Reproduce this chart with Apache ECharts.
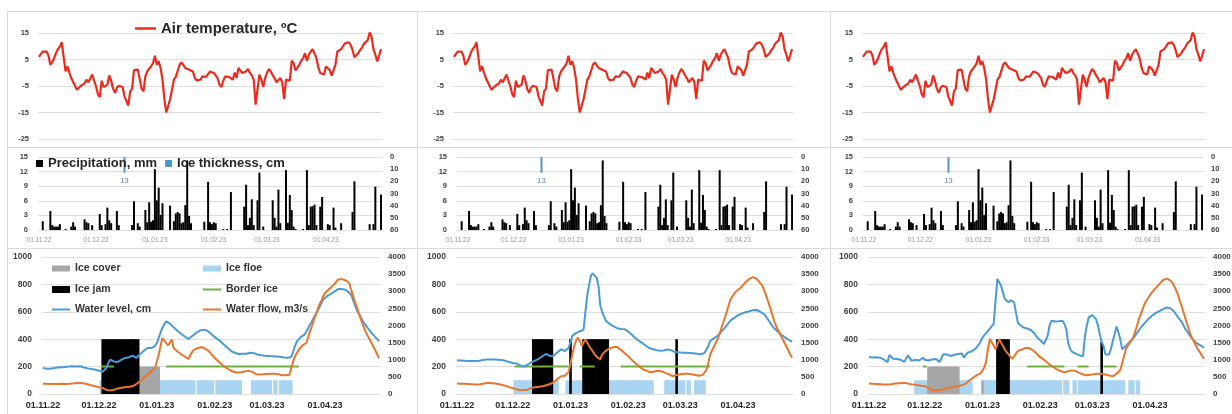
<!DOCTYPE html>
<html>
<head>
<meta charset="utf-8">
<script src="https://cdn.jsdelivr.net/npm/echarts@6/dist/echarts.min.js"></script>
<style>
  html, body { margin: 0; padding: 0; background: #fff; }
  #chart { width: 1232px; height: 414px; }
</style>
</head>
<body>
<div id="chart"></div>
<script>
// ---- Daily categories: 01.11.22 .. 30.04.23 ----
const FIRST_DAY = Date.UTC(2022, 10, 1);
const DAY_COUNT = 181;
const pad2 = n => (n < 10 ? '0' : '') + n;
const days = [];
for (let i = 0; i < DAY_COUNT; i++) {
  const d = new Date(FIRST_DAY + i * 86400000);
  days.push(pad2(d.getUTCDate()) + '.' + pad2(d.getUTCMonth() + 1) + '.' + String(d.getUTCFullYear()).slice(2));
}
const monthTicks = ['01.11.22', '01.12.22', '01.01.23', '01.02.23', '01.03.23', '01.04.23'];

// ---- Air temperature, ºC (daily) ----
const airTemp = [
  6, 7, 8, 8.6, 8, 6.5, 3, 4, 5.5, 7.5,
  9, 9.8, 11.5, 6, 0.5, 2.4, 0, -2, -2.6, -5,
  -6.4, -6, -5, -4.5, -4, -2.6, -3.6, -3, -0.7, -3,
  -5, -8, -9.2, -3, -5.4, -5.5, -4.5, -1, -3, -6,
  -7.6, -5.7, -4.9, -5, -5.4, -8.9, -9, -12.4, -7, -6,
  1, 1.4, 1.2, 1, -6, -7, -1.4, 0.5, 1.5, 2.4,
  3.6, 6.4, 3, 4.3, 1.8, -2.6, -10, -15, -15.7, -10,
  -6.4, -2.6, -1.6, -1, 3, 3.9, 3.4, 1.8, 1.5, 1.1,
  0.8, 0.5, -2, -2.9, -3, -2.6, -1.4, -2, -1.5, -1,
  0.5, 0.9, -0.1, -1, -2, -4.5, -5.4, -3, -1.4, -1.4,
  -1.6, -1.6, -2.6, 0.1, -2, 1.8, 0.8, -0.1, 0.2, 0.5,
  1.4, -0.1, -1, -2.6, -12, -6.4, -0.7, -2.6, -5.4, -2,
  0, 1.4, 0.5, -1, -2, -3.6, -3, -2, -3.6, -9.9,
  -2.6, -3, -3, 4.6, 3.6, 0.9, 1.5, 3, 4.5, 5.5,
  7.4, 4.5, 6.8, 8, 8.9, 8.4, 5.5, 2, -0.1, -0.5,
  -0.7, 2.4, 2.6, 1, -1.1, -1, 3, 8, 8.5, 8.9,
  10, 11.1, 11.8, 11.5, 10.5, 8.6, 5.9, 6.5, 7.4, 8.6,
  9.5, 10.9, 11.4, 12.4, 15.2, 13.6, 8.9, 6.8, 4.3, 6.5,
  8.9
];

// ---- Precipitation, mm (daily) ----
const precipitation = [
  0, 0, 1.8, 0, 0, 0, 3.9, 1.0, 0.7, 0.7,
  0.7, 1.2, 0, 0, 0.2, 0, 0, 0.7, 1.6, 0.7,
  0, 0, 0, 0, 2.2, 1.6, 1.4, 0, 1.0, 0,
  0, 0, 3.3, 1.0, 0, 1.2, 4.6, 2.0, 1.4, 0,
  0, 3.9, 1.0, 0, 0, 0, 0, 0, 0, 1.0,
  5.9, 0, 1.4, 0.7, 0, 0, 4.1, 1.6, 5.7, 1.7,
  2.0, 12.5, 6.1, 8.7, 3.1, 5.5, 0, 0, 0, 5.0,
  0, 1.8, 3.4, 3.7, 3.4, 1.4, 1.6, 5.1, 14.3, 2.9,
  1.4, 0, 0, 0, 0, 0, 0, 1.7, 0, 9.9,
  1.6, 1.2, 1.6, 1.4, 0, 0, 0, 0.2, 0, 0.2,
  0, 7.8, 0, 0, 0, 0, 0, 0, 4.8, 9.3,
  1.0, 2.5, 6.3, 1.0, 0, 6.1, 11.8, 0, 0.7, 0,
  0, 0, 0, 6.1, 2.5, 0.7, 8.3, 1.4, 0, 0,
  12.3, 1.5, 7.2, 4.1, 0.7, 0.2, 0, 0, 0, 0.2,
  0, 12.3, 1.0, 4.8, 4.9, 5.2, 1.0, 0, 4.8, 6.8,
  0, 0, 1.2, 1.0, 0, 4.6, 0.5, 0, 0, 1.4,
  0, 0, 0, 0, 0, 3.7, 10.0, 0, 0, 0,
  0, 0, 0, 0, 1.2, 0, 1.2, 8.9, 0, 0,
  7.3
];

// ---- Ice thickness, cm (single measurement) ----
const iceThicknessDate = '16.12.22';
const iceThicknessValue = 13;

// ---- Water level, cm and water flow, m3/s (daily), three gauges ----
const waterLevel1 = [
  190, 188, 185, 183, 185, 188, 190, 192, 193, 195,
  195, 196, 197, 198, 200, 201, 202, 202, 201, 202,
  202, 198, 194, 190, 187, 184, 182, 180, 177, 174,
  170, 166, 163, 160, 190, 226, 250, 263, 238, 233,
  233, 245, 250, 256, 263, 265, 268, 270, 280, 272,
  263, 275, 290, 304, 315, 326, 336, 336, 335, 336,
  350, 372, 410, 450, 482, 510, 530, 525, 513, 500,
  487, 474, 462, 451, 440, 430, 420, 410, 401, 412,
  423, 433, 445, 457, 463, 467, 470, 466, 462, 457,
  441, 426, 416, 406, 397, 385, 372, 360, 348, 335,
  323, 311, 305, 299, 295, 292, 292, 293, 293, 294,
  298, 301, 304, 298, 292, 287, 285, 283, 282, 280,
  279, 278, 277, 276, 275, 274, 273, 272, 270, 267,
  263, 265, 268, 270, 310, 350, 384, 400, 415, 425,
  433, 455, 480, 506, 530, 555, 580, 603, 632, 660,
  688, 700, 712, 722, 730, 737, 747, 757, 766, 767,
  766, 764, 761, 752, 740, 725, 690, 650, 615, 590,
  565, 540, 518, 500, 480, 462, 445, 430, 415, 400,
  384
];
const waterFlow1 = [
  302, 300, 298, 296, 295, 294, 293, 292, 295, 298,
  296, 294, 292, 295, 300, 305, 310, 315, 318, 321,
  318, 312, 305, 295, 285, 270, 253, 240, 225, 210,
  195, 185, 175, 150, 120, 97, 105, 115, 126, 140,
  160, 175, 182, 190, 197, 204, 210, 217, 224, 260,
  290, 321, 370, 418, 470, 520, 570, 613, 660, 710,
  759, 950, 1148, 1400, 1635, 1560, 1489, 1420, 1392, 1587,
  1343, 1290, 1240, 1197, 1160, 1125, 1090, 1055, 1022, 1150,
  1230, 1294, 1320, 1345, 1360, 1372, 1360, 1320, 1280, 1246,
  1180, 1115, 1051, 1000, 950, 900, 856, 810, 770, 730,
  700, 675, 650, 632, 630, 632, 635, 642, 655, 665,
  675, 681, 650, 610, 580, 564, 570, 575, 580, 584,
  585, 588, 590, 592, 594, 590, 580, 565, 550, 535,
  545, 555, 564, 759, 950, 1100, 1197, 1290, 1360, 1420,
  1460, 1489, 1650, 1820, 1976, 2150, 2300, 2450, 2608, 2720,
  2840, 2949, 3000, 3050, 3100, 3143, 3200, 3270, 3338, 3350,
  3355, 3358, 3320, 3280, 3240, 3050, 2880, 2705, 2550, 2380,
  2220, 2072, 1930, 1800, 1684, 1590, 1489, 1380, 1270, 1160,
  1051
];
const waterLevel2 = [
  247, 246, 245, 244, 243, 242, 241, 240, 241, 240,
  240, 240, 242, 245, 248, 250, 251, 252, 252, 252,
  252, 251, 250, 249, 248, 247, 243, 238, 233, 230,
  227, 225, 223, 215, 208, 203, 200, 198, 215, 228,
  233, 238, 243, 247, 257, 267, 277, 285, 293, 301,
  277, 265, 280, 294, 305, 315, 326, 320, 314, 326,
  338, 380, 424, 435, 445, 453, 458, 463, 468, 600,
  720, 800, 865, 880, 889, 850, 791, 644, 600, 565,
  534, 523, 512, 502, 495, 488, 480, 477, 475, 473,
  473, 466, 457, 448, 433, 418, 404, 395, 386, 377,
  368, 358, 348, 338, 333, 328, 324, 321, 318, 316,
  314, 317, 321, 326, 326, 320, 313, 306, 305, 304,
  303, 302, 302, 301, 300, 299, 298, 297, 296, 294,
  292, 290, 289, 300, 314, 350, 387, 397, 406, 415,
  424, 440, 455, 470, 485, 502, 520, 538, 546, 555,
  565, 576, 582, 587, 592, 597, 600, 604, 608, 612,
  615, 613, 608, 600, 595, 582, 566, 546, 525, 505,
  485, 472, 460, 448, 436, 424, 415, 406, 398, 389,
  380
];
const waterFlow2 = [
  304, 302, 300, 298, 296, 294, 292, 290, 288, 284,
  278, 274, 280, 290, 300, 310, 318, 322, 323, 320,
  310, 300, 290, 280, 268, 255, 240, 220, 200, 188,
  176, 160, 140, 120, 108, 110, 115, 120, 127, 150,
  175, 196, 200, 205, 210, 215, 225, 240, 255, 270,
  290, 304, 350, 400, 441, 480, 519, 530, 535, 539,
  640, 900, 1156, 1400, 1560, 1646, 1550, 1401, 1352, 1597,
  1500, 1401, 1320, 1240, 1156, 1090, 1040, 1009, 1156, 1210,
  1260, 1303, 1330, 1350, 1370, 1382, 1375, 1330, 1290, 1254,
  1200, 1150, 1100, 1050, 990, 940, 892, 850, 800, 755,
  715, 695, 675, 655, 637, 645, 655, 668, 678, 686,
  660, 640, 617, 595, 570, 545, 519, 540, 555, 568,
  575, 585, 590, 598, 592, 585, 575, 568, 555, 540,
  530, 519, 560, 600, 700, 900, 1156, 1270, 1380, 1490,
  1597, 1750, 1920, 2080, 2250, 2420, 2600, 2773, 2850, 2930,
  3000, 3018, 3080, 3140, 3200, 3263, 3310, 3360, 3400, 3410,
  3400, 3361, 3300, 3230, 3165, 3030, 2880, 2720, 2560, 2380,
  2200, 2038, 1920, 1810, 1700, 1597, 1490, 1380, 1270, 1160,
  1058
];
const waterLevel3 = [
  270, 268, 266, 265, 268, 272, 265, 258, 252, 240,
  233, 284, 270, 258, 252, 255, 257, 250, 238, 235,
  260, 282, 262, 242, 245, 250, 257, 245, 233, 265,
  250, 240, 245, 250, 252, 265, 255, 242, 233, 265,
  290, 296, 288, 280, 277, 282, 286, 289, 292, 295,
  296, 265, 285, 301, 305, 310, 314, 328, 342, 360,
  385, 412, 430, 445, 461, 478, 495, 510, 681, 840,
  815, 791, 740, 693, 706, 669, 685, 698, 669, 590,
  522, 505, 492, 485, 480, 478, 473, 467, 461, 440,
  420, 405, 395, 380, 365, 355, 424, 500, 534, 532,
  530, 529, 531, 533, 534, 510, 473, 375, 330, 310,
  301, 295, 288, 282, 279, 277, 420, 497, 559, 570,
  576, 565, 546, 500, 436, 380, 350, 289, 289, 289,
  330, 387, 440, 492, 450, 399, 326, 335, 350, 365,
  380, 395, 404, 425, 445, 465, 485, 500, 515, 530,
  546, 560, 572, 583, 590, 598, 605, 612, 620, 627,
  632, 630, 625, 615, 600, 580, 560, 546, 525, 500,
  473, 455, 435, 415, 399, 385, 372, 363, 355, 347,
  338
];
const waterFlow3 = [
  304, 302, 300, 298, 295, 292, 288, 284, 280, 276,
  274, 280, 288, 296, 304, 310, 316, 320, 322, 323,
  318, 305, 292, 280, 274, 268, 260, 252, 242, 233,
  228, 225, 180, 125, 108, 108, 108, 108, 108, 125,
  140, 150, 165, 180, 195, 206, 212, 218, 224, 230,
  260, 285, 304, 360, 400, 440, 480, 519, 550, 580,
  600, 617, 780, 960, 1350, 1617, 1500, 1420, 1303, 1450,
  1597, 1500, 1401, 1300, 1220, 1156, 1090, 1029, 1100, 1180,
  1254, 1280, 1300, 1320, 1340, 1352, 1340, 1310, 1280, 1254,
  1190, 1120, 1080, 1040, 1000, 955, 910, 862, 830, 790,
  750, 720, 695, 670, 650, 637, 650, 665, 680, 690,
  696, 670, 645, 617, 595, 570, 545, 548, 555, 562,
  568, 575, 585, 592, 598, 590, 580, 568, 555, 540,
  528, 519, 540, 590, 640, 700, 900, 1100, 1303, 1400,
  1490, 1560, 1650, 1820, 2000, 2185, 2330, 2480, 2620, 2724,
  2810, 2890, 2969, 3030, 3090, 3150, 3214, 3270, 3330, 3381,
  3370, 3345, 3312, 3250, 3150, 3030, 2900, 2720, 2560, 2381,
  2200, 2030, 1860, 1695, 1590, 1480, 1370, 1280, 1200, 1110,
  1029
];

// ---- Ice phenomena: [from, to, bar height on the level axis] ----
const iceCover1 = [['23.12.22', '02.01.23', 200]];
const iceFloe1 = [['02.12.22', '02.12.22', 100], ['03.01.23', '21.01.23', 100], ['23.01.23', '31.01.23', 100],
                  ['02.02.23', '15.02.23', 100], ['21.02.23', '03.03.23', 100], ['05.03.23', '06.03.23', 100],
                  ['08.03.23', '14.03.23', 100]];
const iceJam1 = [['03.12.22', '22.12.22', 400]];
const borderIce1 = [['02.12.22', '09.12.22', 200], ['06.01.23', '18.03.23', 200]];

const iceCover2 = [];
const iceFloe2 = [['02.12.22', '25.12.22', 100], ['30.12.22', '14.02.23', 100], ['21.02.23', '03.03.23', 100],
                  ['05.03.23', '06.03.23', 100], ['09.03.23', '14.03.23', 100]];
const iceJam2 = [['12.12.22', '22.12.22', 400], ['01.01.23', '01.01.23', 400], ['08.01.23', '21.01.23', 400],
                 ['27.02.23', '27.02.23', 400]];
const borderIce2 = [['02.12.22', '31.12.22', 200], ['06.01.23', '14.01.23', 200], ['28.01.23', '17.03.23', 200]];

const iceCover3 = [['03.12.22', '19.12.22', 200], ['01.01.23', '01.01.23', 100]];
const iceFloe3 = [['26.11.22', '26.12.22', 100], ['02.01.23', '12.02.23', 100], ['14.02.23', '16.02.23', 100],
                  ['19.02.23', '20.02.23', 100], ['22.02.23', '18.03.23', 100], ['21.03.23', '23.03.23', 100],
                  ['25.03.23', '26.03.23', 100]];
const iceJam3 = [['09.01.23', '15.01.23', 400], ['06.03.23', '06.03.23', 380]];
const borderIce3 = [['30.11.22', '02.12.22', 200], ['25.01.23', '14.02.23', 200], ['21.02.23', '27.02.23', 200],
                    ['07.03.23', '14.03.23', 200]];

// ---- Names ----
const NAME_TEMP = 'Air temperature, ºC';
const NAME_PREC = 'Precipitation, mm';
const NAME_ICE_T = 'Ice thickness, cm';
const NAME_COVER = 'Ice cover';
const NAME_FLOE = 'Ice floe';
const NAME_JAM = 'Ice jam';
const NAME_BORDER = 'Border ice';
const NAME_LEVEL = 'Water level, cm';
const NAME_FLOW = 'Water flow, m3/s';

// ---- Styling ----
const FONT = '"Liberation Sans", Arial, sans-serif';
const GRID_LINE = '#dedede';
const FRAME = '#d9d9d9';
const TICK_TEXT = '#404040';
const C_TEMP = '#ec2b1d';
const C_LEVEL = '#4a9ad8';
const C_FLOW = '#e8762d';
const C_BORDER = '#6fb043';
const C_FLOE = '#a9d5f3';
const C_COVER = '#a6a6a6';
const C_JAM = '#000000';
const C_ICE_T = '#4f95d2';

function dailyFromRanges(ranges) {
  const out = new Array(days.length).fill(null);
  ranges.forEach(([from, to, v]) => {
    const a = days.indexOf(from), b = days.indexOf(to);
    for (let i = a; i <= b; i++) out[i] = v;
  });
  return out;
}
const iceThickness = days.map(d => (d === iceThicknessDate ? iceThicknessValue : null));

// Horizontal extents (px) of the three plots in each column
const panels = [
  { top: [38, 382], mid: [38, 382], bot: [42, 380],
    level: waterLevel1, flow: waterFlow1, cover: iceCover1, floe: iceFloe1, jam: iceJam1, border: borderIce1 },
  { top: [453, 793], mid: [457, 793], bot: [456, 793],
    level: waterLevel2, flow: waterFlow2, cover: iceCover2, floe: iceFloe2, jam: iceJam2, border: borderIce2 },
  { top: [862, 1205], mid: [863, 1203], bot: [868, 1205],
    level: waterLevel3, flow: waterFlow3, cover: iceCover3, floe: iceFloe3, jam: iceJam3, border: borderIce3 }
];

const monthLabel = (i, v) => monthTicks.indexOf(v) >= 0;
const plainNumber = v => String(v);

const option = {
  animation: false,
  textStyle: { fontFamily: FONT },
  grid: [], xAxis: [], yAxis: [], series: [], legend: [], graphic: []
};

function catAxis(gridIndex, extra) {
  return Object.assign({
    type: 'category', gridIndex, data: days, boundaryGap: true,
    axisLine: { show: false }, axisTick: { show: false }, splitLine: { show: false }
  }, extra);
}
function valAxis(gridIndex, min, max, interval, label, extra) {
  return Object.assign({
    type: 'value', gridIndex, min, max, interval,
    axisLine: { show: false }, axisTick: { show: false },
    splitLine: { show: true, lineStyle: { color: GRID_LINE, width: 1 } },
    axisLabel: Object.assign({ color: TICK_TEXT, fontWeight: 'bold', fontFamily: FONT, formatter: plainNumber }, label)
  }, extra);
}

panels.forEach((p, c) => {
  const g = option.grid.length;
  option.grid.push({ left: p.top[0], width: p.top[1] - p.top[0], top: 33, height: 106, outerBoundsMode: 'none' });
  option.grid.push({ left: p.mid[0], width: p.mid[1] - p.mid[0], top: 157, height: 73, outerBoundsMode: 'none' });
  option.grid.push({ left: p.bot[0], width: p.bot[1] - p.bot[0], top: 257, height: 137, outerBoundsMode: 'none' });

  const x = option.xAxis.length;
  option.xAxis.push(catAxis(g, { axisLabel: { show: false } }));
  option.xAxis.push(catAxis(g + 1, {
    axisLabel: { interval: monthLabel, color: '#8e99a6', fontSize: 6.5, margin: 7, fontFamily: FONT, hideOverlap: false }
  }));
  option.xAxis.push(catAxis(g + 1, { show: false }));
  option.xAxis.push(catAxis(g + 2, {
    axisLabel: { interval: monthLabel, color: '#262626', fontWeight: 'bold', fontSize: 9, margin: 7, fontFamily: FONT, hideOverlap: false }
  }));

  const y = option.yAxis.length;
  option.yAxis.push(valAxis(g, -25, 15, 10, { fontSize: 7.5, margin: 9 }));
  option.yAxis.push(valAxis(g + 1, 0, 15, 3, { fontSize: 7.5, margin: 10 }));
  option.yAxis.push(valAxis(g + 1, 0, 60, 10, { fontSize: 7.5, margin: 8 },
    { position: 'right', inverse: true, splitLine: { show: false } }));
  option.yAxis.push(valAxis(g + 2, 0, 1000, 200, { fontSize: 8.5, margin: 10 }));
  option.yAxis.push(valAxis(g + 2, 0, 4000, 500, { fontSize: 8, margin: 8 },
    { position: 'right', splitLine: { show: false } }));

  // Air temperature
  option.series.push({
    name: NAME_TEMP, type: 'line', xAxisIndex: x, yAxisIndex: y, data: airTemp,
    symbol: 'none', lineStyle: { color: C_TEMP, width: 2.2 }, itemStyle: { color: C_TEMP }
  });
  // Precipitation
  option.series.push({
    name: NAME_PREC, type: 'bar', xAxisIndex: x + 1, yAxisIndex: y + 1, data: precipitation,
    barWidth: 2, itemStyle: { color: '#000' }
  });
  // Ice thickness (hanging from the top of the reversed axis)
  option.series.push({
    name: NAME_ICE_T, type: 'bar', xAxisIndex: x + 2, yAxisIndex: y + 2, data: iceThickness,
    barWidth: 2, itemStyle: { color: C_ICE_T },
    label: { show: true, position: 'bottom', distance: 4, fontSize: 7.5, color: '#5d7fa3', fontFamily: FONT }
  });
  // Ice phenomena as daily bars, slightly wider than a day so neighbours merge
  const iceBar = (name, ranges, color) => ({
    name, type: 'bar', xAxisIndex: x + 3, yAxisIndex: y + 3, data: dailyFromRanges(ranges),
    barWidth: 2.6, barGap: '-100%', z: 2,
    itemStyle: { color }
  });
  option.series.push(iceBar(NAME_FLOE, p.floe, C_FLOE));
  option.series.push(iceBar(NAME_COVER, p.cover, C_COVER));
  option.series.push(iceBar(NAME_JAM, p.jam, C_JAM));
  option.series.push({
    name: NAME_BORDER, type: 'line', xAxisIndex: x + 3, yAxisIndex: y + 3, data: dailyFromRanges(p.border),
    symbol: 'none', connectNulls: false, z: 3, lineStyle: { color: C_BORDER, width: 2 }, itemStyle: { color: C_BORDER }
  });
  option.series.push({
    name: NAME_LEVEL, type: 'line', xAxisIndex: x + 3, yAxisIndex: y + 3, data: p.level,
    symbol: 'none', z: 4, lineStyle: { color: C_LEVEL, width: 2 }, itemStyle: { color: C_LEVEL }
  });
  option.series.push({
    name: NAME_FLOW, type: 'line', xAxisIndex: x + 3, yAxisIndex: y + 4, data: p.flow,
    symbol: 'none', z: 4, lineStyle: { color: C_FLOW, width: 2 }, itemStyle: { color: C_FLOW }
  });
});

// ---- Legends (first column only) ----
const legendText = (size, color) => ({ fontSize: size, fontWeight: 'bold', color, fontFamily: FONT });
option.legend.push({
  data: [NAME_TEMP], left: 130, top: 16, itemWidth: 21, itemHeight: 2.5, icon: 'rect',
  selectedMode: false, textStyle: legendText(15, '#262626')
});
option.legend.push({
  data: [NAME_PREC, NAME_ICE_T], left: 31, top: 152, itemWidth: 7, itemHeight: 7, itemGap: 8,
  icon: 'rect', selectedMode: false, textStyle: legendText(13, '#262626')
});
const bottomLegend = (name, left, centerY, h) => ({
  data: [name], left, top: centerY - 7, itemWidth: 18, itemHeight: h, icon: 'rect',
  selectedMode: false, textStyle: legendText(10.5, '#333')
});
option.legend.push(bottomLegend(NAME_COVER, 47, 265, 6));
option.legend.push(bottomLegend(NAME_FLOE, 198, 265, 6));
option.legend.push(bottomLegend(NAME_JAM, 47, 286, 7));
option.legend.push(bottomLegend(NAME_BORDER, 198, 286, 2));
option.legend.push(bottomLegend(NAME_LEVEL, 47, 306, 2));
option.legend.push(bottomLegend(NAME_FLOW, 198, 306, 2));

// ---- Panel frames ----
const frameLine = (x1, y1, x2, y2) => ({
  type: 'line', silent: true, z: -1,
  shape: { x1, y1, x2, y2 }, style: { stroke: FRAME, lineWidth: 1 }
});
option.graphic = [
  frameLine(8, 11.5, 1232, 11.5),
  frameLine(8, 147.5, 1232, 147.5),
  frameLine(8, 248.5, 1232, 248.5),
  frameLine(7.5, 11.5, 7.5, 414),
  frameLine(417.5, 11.5, 417.5, 414),
  frameLine(830.5, 11.5, 830.5, 414)
];

const chart = echarts.init(document.getElementById('chart'), null, { renderer: 'canvas' });
chart.setOption(option);
</script>
</body>
</html>
